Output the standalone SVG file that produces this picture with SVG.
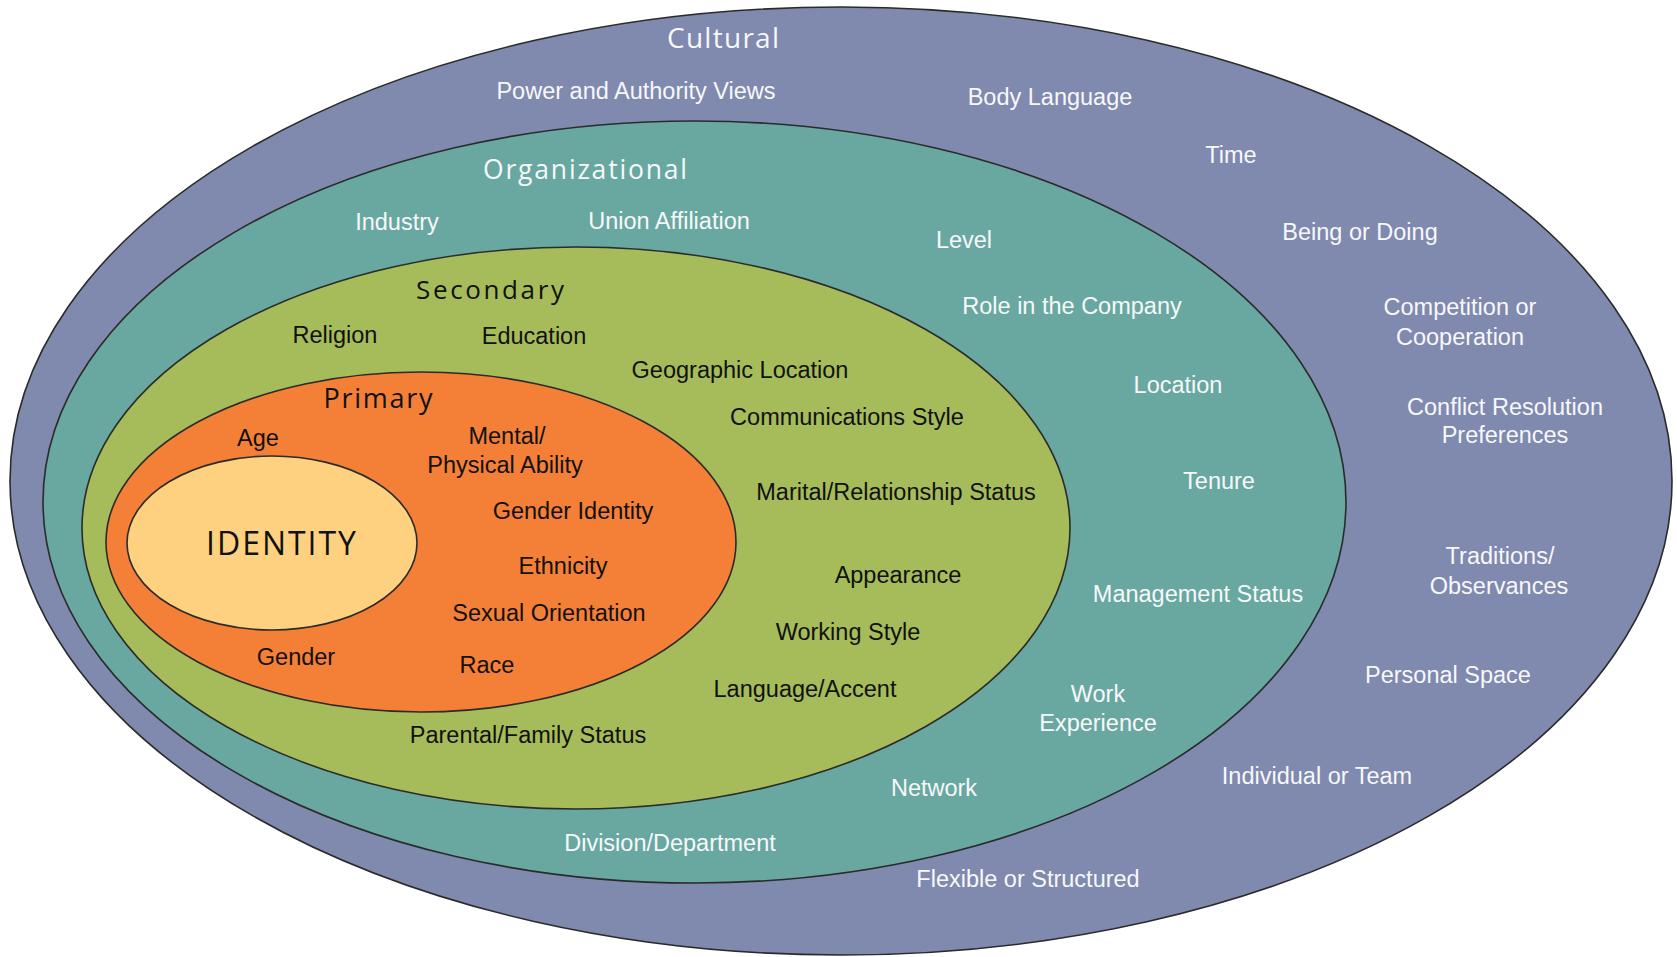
<svg xmlns="http://www.w3.org/2000/svg" width="1677" height="957" viewBox="0 0 1677 957">
  <style>
    .ring { stroke: #2b2b2b; stroke-width: 1.6; }
    .lbl { font-family: "Liberation Sans", Arial, sans-serif; font-size: 23.5px; text-anchor: middle; }
    .light { fill: #f7f8fa; }
    .dark { fill: #111111; }
    .head { font-family: "Open Sans", "DejaVu Sans", sans-serif; text-anchor: middle; }
  </style>
  <rect width="1677" height="957" fill="#ffffff"/>

  <!-- Cultural layer -->
  <g id="cultural">
    <ellipse class="ring" cx="841" cy="481" rx="831" ry="474" fill="#8089ae"/>
    <text class="head light" x="723" y="48" font-size="28" textLength="112">Cultural</text>
    <text class="lbl light" x="636" y="99">Power and Authority Views</text>
    <text class="lbl light" x="1050" y="105">Body Language</text>
    <text class="lbl light" x="1231" y="163">Time</text>
    <text class="lbl light" x="1360" y="240">Being or Doing</text>
    <text class="lbl light" x="1460" y="315">Competition or</text>
    <text class="lbl light" x="1460" y="345">Cooperation</text>
    <text class="lbl light" x="1505" y="415">Conflict Resolution</text>
    <text class="lbl light" x="1505" y="443">Preferences</text>
    <text class="lbl light" x="1500" y="564">Traditions/</text>
    <text class="lbl light" x="1499" y="594">Observances</text>
    <text class="lbl light" x="1448" y="683">Personal Space</text>
    <text class="lbl light" x="1317" y="784">Individual or Team</text>
    <text class="lbl light" x="1028" y="887">Flexible or Structured</text>
  </g>

  <!-- Organizational layer -->
  <g id="organizational">
    <ellipse class="ring" cx="694.5" cy="502" rx="651.5" ry="381" fill="#68a8a0"/>
    <text class="head light" x="585" y="179" font-size="26.5" textLength="204">Organizational</text>
    <text class="lbl light" x="397" y="230">Industry</text>
    <text class="lbl light" x="669" y="229">Union Affiliation</text>
    <text class="lbl light" x="964" y="248">Level</text>
    <text class="lbl light" x="1072" y="314">Role in the Company</text>
    <text class="lbl light" x="1178" y="393">Location</text>
    <text class="lbl light" x="1219" y="489">Tenure</text>
    <text class="lbl light" x="1198" y="602">Management Status</text>
    <text class="lbl light" x="1098" y="702">Work</text>
    <text class="lbl light" x="1098" y="731">Experience</text>
    <text class="lbl light" x="934" y="796">Network</text>
    <text class="lbl light" x="670" y="851">Division/Department</text>
  </g>

  <!-- Secondary layer -->
  <g id="secondary">
    <ellipse class="ring" cx="576" cy="528" rx="494" ry="281" fill="#a6bc5a"/>
    <text class="head dark" x="490" y="299" font-size="26" textLength="148">Secondary</text>
    <text class="lbl dark" x="335" y="343">Religion</text>
    <text class="lbl dark" x="534" y="344">Education</text>
    <text class="lbl dark" x="740" y="378">Geographic Location</text>
    <text class="lbl dark" x="847" y="425">Communications Style</text>
    <text class="lbl dark" x="896" y="500">Marital/Relationship Status</text>
    <text class="lbl dark" x="898" y="583">Appearance</text>
    <text class="lbl dark" x="848" y="640">Working Style</text>
    <text class="lbl dark" x="805" y="697">Language/Accent</text>
    <text class="lbl dark" x="528" y="743">Parental/Family Status</text>
  </g>

  <!-- Primary layer -->
  <g id="primary">
    <ellipse class="ring" cx="421" cy="542" rx="315" ry="170" fill="#f48038"/>
    <text class="head dark" x="378" y="408" font-size="27" textLength="109">Primary</text>
    <text class="lbl dark" x="258" y="446">Age</text>
    <text class="lbl dark" x="507" y="444">Mental/</text>
    <text class="lbl dark" x="505" y="473">Physical Ability</text>
    <text class="lbl dark" x="573" y="519">Gender Identity</text>
    <text class="lbl dark" x="563" y="574">Ethnicity</text>
    <text class="lbl dark" x="549" y="621">Sexual Orientation</text>
    <text class="lbl dark" x="296" y="665">Gender</text>
    <text class="lbl dark" x="487" y="673">Race</text>
  </g>

  <!-- Identity core -->
  <g id="identity">
    <ellipse class="ring" cx="272" cy="543" rx="145" ry="87" fill="#fdd17f"/>
    <text class="head dark" x="281" y="555" font-size="32" textLength="150">IDENTITY</text>
  </g>
</svg>
